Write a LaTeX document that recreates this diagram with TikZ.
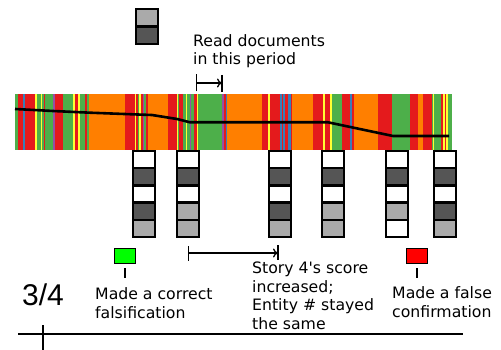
\documentclass[tikz,border=0pt]{standalone}
\usepackage{fontspec}
\setmainfont{DejaVu Sans}
\newfontfamily\numfont{Liberation Sans}
\usetikzlibrary{arrows.meta, calc}

\definecolor{barorange}{HTML}{FF7F00}
\definecolor{barred}{HTML}{E41A1C}
\definecolor{bargreen}{HTML}{4DAF4A}
\definecolor{barblue}{HTML}{377EB8}
\definecolor{baryellow}{HTML}{FFFF33}
\definecolor{barpurple}{HTML}{984EA3}
\definecolor{cellw}{HTML}{FFFFFF}
\definecolor{celld}{HTML}{555555}
\definecolor{celll}{HTML}{AAAAAA}

\begin{document}
\begin{tikzpicture}[x=1pt, y=-1pt,
    cell/.style={draw=black, line width=2.6pt},
    lbl/.style={anchor=base west, align=left, inner sep=0pt,
      font=\fontsize{15.7}{18.5}\selectfont},
    colorsq/.style={draw=black, line width=1.6pt, minimum width=21pt, minimum height=15pt, inner sep=0pt}]
  \useasboundingbox (0,0) rectangle (501,350);

  % key
  \filldraw[cell, fill=celll] (136,9) rectangle (158,26.5);
  \filldraw[cell, fill=celld] (136,26.5) rectangle (158,44);

  % stripe bar
  \fill[barorange] (15,94) rectangle (452,150);
  \foreach \a/\b/\c in {15/18/bargreen, 18/23/barred, 23/25/barblue, 25/35/barred,
      35/37/baryellow, 37/41/bargreen, 41/42/baryellow, 42/44/bargreen, 44/45/barred,
      45/53/bargreen, 53/55/barpurple, 55/63/barred, 63/73/bargreen, 73/75/baryellow,
      75/78/barred, 78/80/baryellow, 80/85/bargreen, 85/87/barred, 87/89/bargreen,
      125/135/barred, 135/136/baryellow, 136/138/barred, 138/139/bargreen,
      139/141/baryellow, 141/143/barred, 143/144/barpurple, 144/146/bargreen,
      146/148/barred, 168/177/barred, 177/178/baryellow, 178/179/bargreen,
      179/183/barred, 183/186/bargreen, 186/187/baryellow, 187/190/bargreen,
      190/191/barpurple, 191/194/bargreen, 194/197/barred, 197/198/baryellow,
      198/222/bargreen, 222/224/barpurple, 224/226/barred, 226/227/barblue,
      262/268/barred, 268/269.5/baryellow, 269.5/280/barred, 280/282/barblue,
      282/283/barred, 283/285/barblue, 285/288/barred, 288/291/barblue,
      291/292/barred, 313/323/barred, 323/324.5/baryellow, 324.5/330/barred,
      330/331.5/baryellow, 331.5/342/bargreen, 342/350/barred, 350/352/barblue,
      352/354/barred, 378/392/barred, 392/410/bargreen, 410/418/barred,
      423/432/barred, 432/433/bargreen, 433/434/baryellow, 434/441/bargreen,
      441/443/barred, 443/444.5/baryellow, 444.5/446/barred, 446/447.5/baryellow,
      447.5/452/bargreen}
    \fill[\c] (\a,94) rectangle (\b,150);
  \draw[line width=2.6pt] (15,109) -- (53,111) -- (90,112.7) -- (143,114.7)
    -- (152,115) -- (177,119) -- (190,122.3) -- (328,122.3) -- (393,136) -- (449,136);

  % score columns
  \foreach \x/\cs in {133/{cellw,celld,cellw,celld,celll}, 177/{cellw,celld,cellw,celll,celll},
      269/{cellw,celld,cellw,celld,celll}, 322/{cellw,celld,cellw,celll,celll},
      386/{cellw,celld,cellw,celll,cellw}, 434/{cellw,celld,cellw,celld,celll}}
    \foreach \c [count=\i from 0] in \cs
      \filldraw[cell, fill=\c] (\x,151+17.2*\i) rectangle (\x+22,168.2+17.2*\i);

  % labels (base = last line)
  \node[lbl] (readlbl) at (193,65) {Read documents\\in this period};
  \draw[line width=1.3pt, {Bar[width=17pt]}-{To[length=5pt,width=9pt]}] (196,83) -- (222,83);
  \draw[line width=1.3pt] (222,75) -- (222,92);

  \draw[line width=1.3pt, {Bar[width=15pt]}-{To[length=5pt,width=9pt]}] (188,253) -- (278,253);
  \draw[line width=1.3pt] (278,245) -- (278,260);
  \node[lbl] (storylbl) at (252,329) {Story 4\textquotesingle s score\\increased;\\Entity \# stayed\\the same};

  \node[colorsq, fill=green] (gsq) at (125,256) {};
  \node[colorsq, fill=red] (rsq) at (417,256) {};
  \draw[line width=1.3pt] ([yshift=-4pt]gsq.south) -- ++(0,10);
  \draw[line width=1.3pt] ([yshift=-4pt]rsq.south) -- ++(0,10);
  \node[lbl] (falslbl) at (95,318) {Made a correct\\falsification};
  \node[lbl] (conflbl) at (392,317) {Made a false\\confirmation};

  % timeline
  \node[anchor=base west, inner sep=0pt, font=\numfont\fontsize{30}{30}\selectfont] (frac) at (22,305) {3/4};
  \draw[line width=1.8pt] (18,334) -- (463,334);
  \draw[line width=1.8pt] (43,325) -- (43,350);
\end{tikzpicture}
\end{document}
